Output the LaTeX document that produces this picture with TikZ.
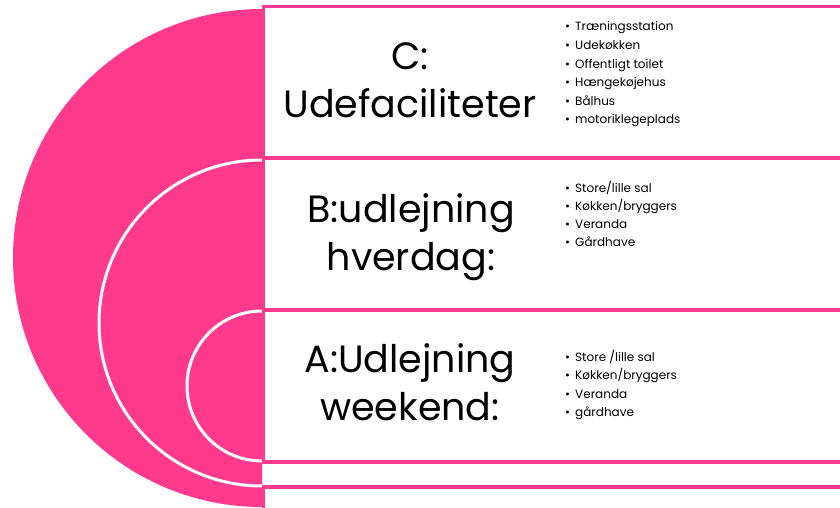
\documentclass[tikz,border=0pt]{standalone}
\usepackage{fontspec}
\setmainfont{Poppins}
\definecolor{hotpink}{RGB}{255,58,140}
\tikzset{
  band/.style={draw=hotpink, line width=3.5pt, fill=white},
  ring/.style={draw=white, line width=3pt},
  titletext/.style={anchor=base, inner sep=0pt, font=\fontsize{38}{48}\selectfont},
  listtext/.style={anchor=base west, inner sep=0pt, font=\fontsize{12}{18.6}\selectfont}
}
\newcommand{\bul}{\makebox[10pt][l]{•}}
\newcommand{\ttl}[1]{\vtop{\baselineskip=48pt\halign{\hfil##\hfil\cr#1\crcr}}}
\newcommand{\lst}[2]{\vtop{\baselineskip=#1\halign{\bul##\hfil\cr#2\crcr}}}
\begin{document}
\begin{tikzpicture}[x=1pt,y=-1pt]
\useasboundingbox (0,0) rectangle (840,508);
\clip (0,0) rectangle (840,508);
% nested half circles
\begin{scope}
  \clip (0,0) rectangle (262,508);
  \fill[hotpink] (262,258) circle[radius=249];
  \draw[ring] (262,323) circle[radius=163];
  \draw[ring] (262,386) circle[radius=75];
\end{scope}
% bands
\path[band] (263.5,6.5) rectangle (900,158) coordinate (boxC);
\path[band] (263.5,158) rectangle (900,310) coordinate (boxB);
\path[band] (263.5,310) rectangle (900,462) coordinate (boxA);
\path[band] (263.5,487) rectangle (900,640) coordinate (boxD);
% titles
\node[titletext] (tC) at (410,70) {\ttl{C:\cr Udefaciliteter}};
\node[titletext] (tB) at (411,222) {\ttl{B:udlejning\cr hverdag:}};
\node[titletext] (tA) at (410,372) {\ttl{A:Udlejning\cr weekend:}};
% lists
\node[listtext] (lC) at (565,31) {\lst{18.6pt}{Træningsstation\cr Udekøkken\cr Offentligt toilet\cr Hængekøjehus\cr Bålhus\cr motoriklegeplads}};
\node[listtext] (lB) at (565,192) {\lst{18.3pt}{Store/lille sal\cr Køkken/bryggers\cr Veranda\cr Gårdhave}};
\node[listtext] (lA) at (565,361) {\lst{18.6pt}{Store /lille sal\cr Køkken/bryggers\cr Veranda\cr gårdhave}};
\end{tikzpicture}
\end{document}
